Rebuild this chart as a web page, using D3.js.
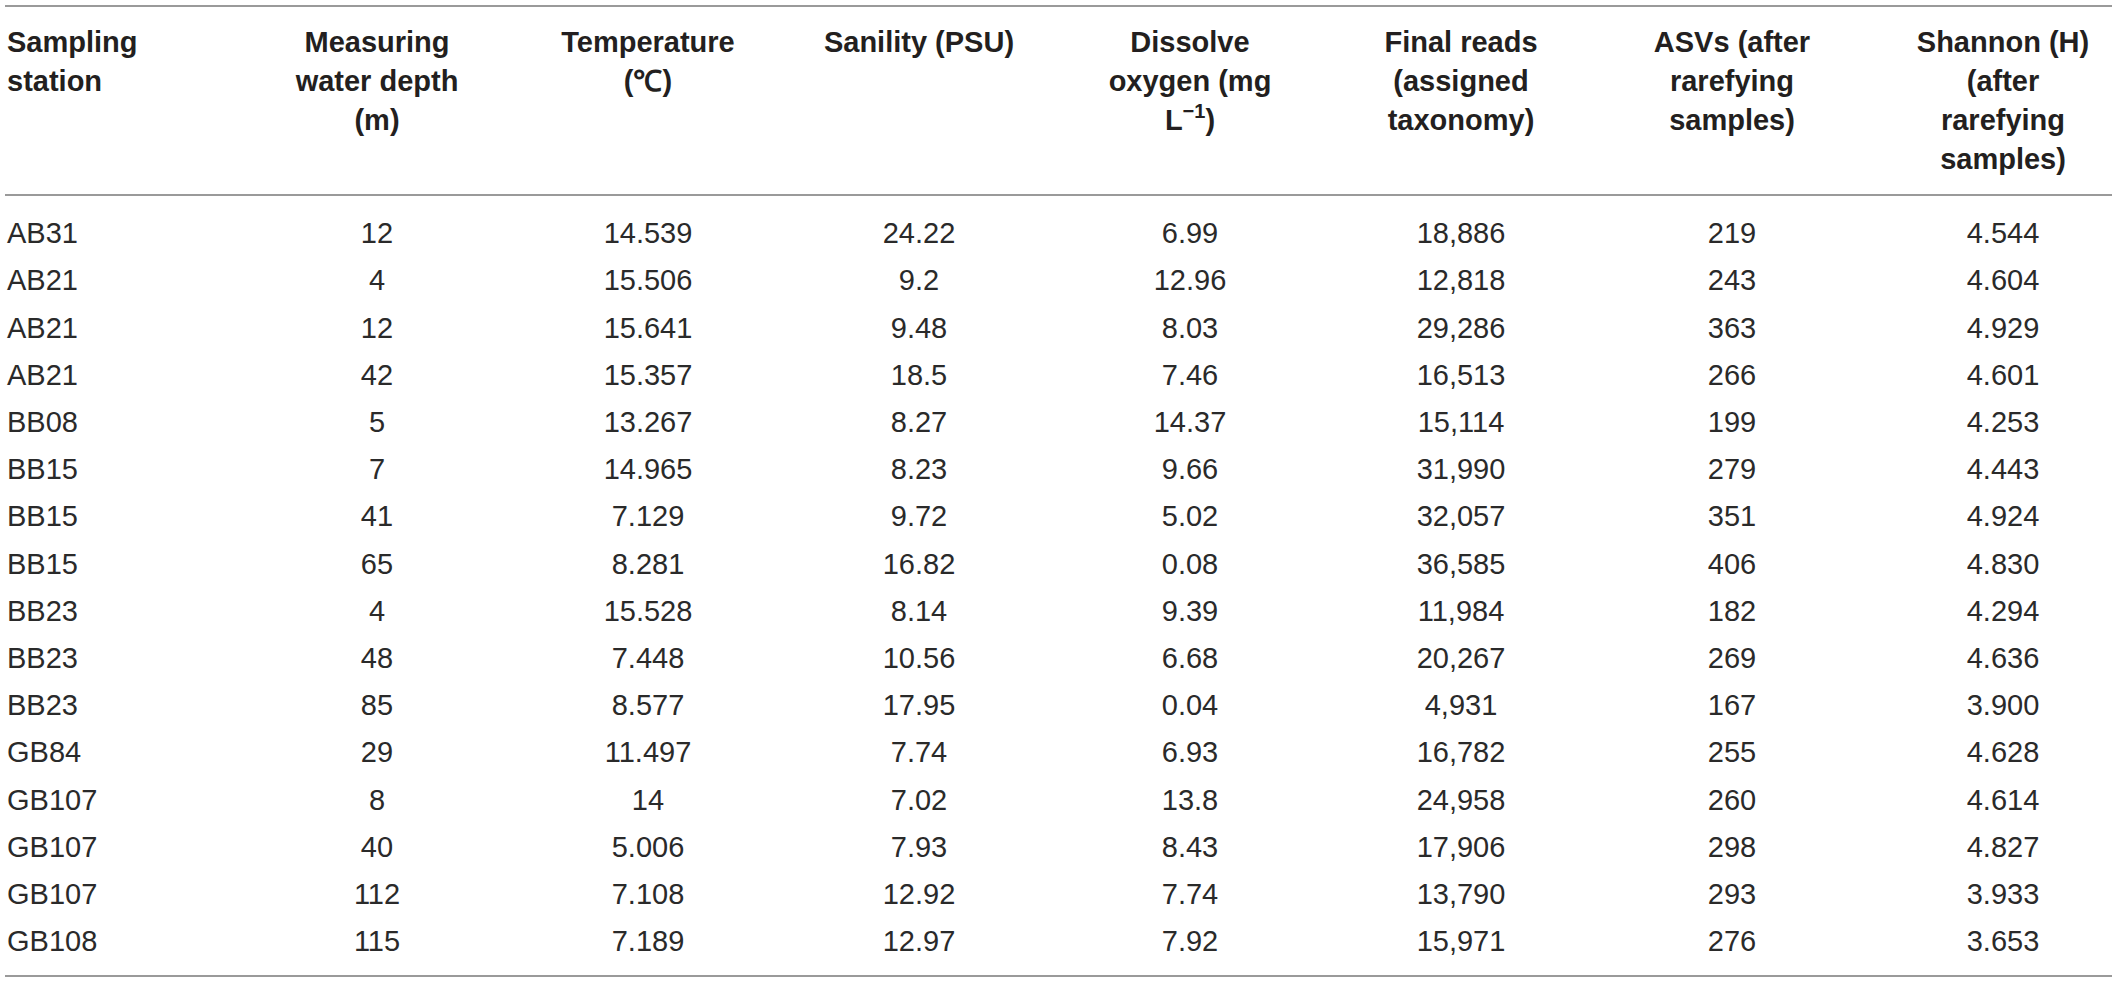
<!DOCTYPE html>
<html>
<head>
<meta charset="utf-8">
<script src="https://cdn.jsdelivr.net/npm/d3@7"></script>
<style>
html,body{margin:0;padding:0;background:#fff;}
svg{display:block;}
</style>
</head>
<body>
<svg id="chart" width="2118" height="982"></svg>
<script>
// ---- data ----
const stations = ["AB31","AB21","AB21","AB21","BB08","BB15","BB15","BB15","BB23","BB23","BB23","GB84","GB107","GB107","GB107","GB108"];
const depth = ["12","4","12","42","5","7","41","65","4","48","85","29","8","40","112","115"];
const temperature = ["14.539","15.506","15.641","15.357","13.267","14.965","7.129","8.281","15.528","7.448","8.577","11.497","14","5.006","7.108","7.189"];
const salinity = ["24.22","9.2","9.48","18.5","8.27","8.23","9.72","16.82","8.14","10.56","17.95","7.74","7.02","7.93","12.92","12.97"];
const oxygen = ["6.99","12.96","8.03","7.46","14.37","9.66","5.02","0.08","9.39","6.68","0.04","6.93","13.8","8.43","7.74","7.92"];
const finalReads = ["18,886","12,818","29,286","16,513","15,114","31,990","32,057","36,585","11,984","20,267","4,931","16,782","24,958","17,906","13,790","15,971"];
const asvs = ["219","243","363","266","199","279","351","406","182","269","167","255","260","298","293","276"];
const shannon = ["4.544","4.604","4.929","4.601","4.253","4.443","4.924","4.830","4.294","4.636","3.900","4.628","4.614","4.827","3.933","3.653"];
const headers = [
  ["Sampling","station"],
  ["Measuring","water depth","(m)"],
  ["Temperature","(℃)"],
  ["Sanility (PSU)"],
  ["Dissolve","oxygen (mg","L−1)"],
  ["Final reads","(assigned","taxonomy)"],
  ["ASVs (after","rarefying","samples)"],
  ["Shannon (H)","(after","rarefying","samples)"]
];

const columns = [stations, depth, temperature, salinity, oxygen, finalReads, asvs, shannon];

// ---- layout ----
const svg = d3.select("#chart");
const lineX0 = 5, lineX1 = 2112;
const colX = d3.scalePoint().domain(d3.range(1, 8)).range([377, 2003]);
const firstColX = 7;
const rowY = d3.scalePoint().domain(d3.range(stations.length)).range([233, 941]);
const headY = d3.scalePoint().domain(d3.range(4)).range([52, 169]);

const fontFam = "'Liberation Sans', Arial, Helvetica, sans-serif";
const textColor = "#231f20";

// rules
[6, 195, 976].forEach(y => {
  svg.append("line")
    .attr("x1", lineX0).attr("x2", lineX1)
    .attr("y1", y).attr("y2", y)
    .attr("stroke", "#9a9a9a").attr("stroke-width", 2);
});

// headers
headers.forEach((lines, ci) => {
  const x = ci === 0 ? firstColX : colX(ci);
  const anchor = ci === 0 ? "start" : "middle";
  lines.forEach((ln, li) => {
    const t = svg.append("text")
      .attr("x", x).attr("y", headY(li))
      .attr("text-anchor", anchor)
      .attr("font-family", fontFam)
      .attr("font-weight", "bold")
      .attr("font-size", 29)
      .attr("fill", textColor);
    if (ln === "L−1)") {
      t.append("tspan").text("L");
      t.append("tspan").text("−1").attr("font-size", 20).attr("dy", -12);
      t.append("tspan").text(")").attr("dy", 12);
    } else {
      t.text(ln);
    }
  });
});

// body cells
columns.forEach((vals, ci) => {
  const x = ci === 0 ? firstColX : colX(ci);
  const anchor = ci === 0 ? "start" : "middle";
  svg.append("g").selectAll("text")
    .data(vals)
    .join("text")
    .attr("x", x)
    .attr("y", (d, i) => rowY(i))
    .attr("dy", "0.35em")
    .attr("text-anchor", anchor)
    .attr("font-family", fontFam)
    .attr("font-size", 29)
    .attr("fill", "#2a2a2a")
    .text(d => d);
});
</script>
</body>
</html>
